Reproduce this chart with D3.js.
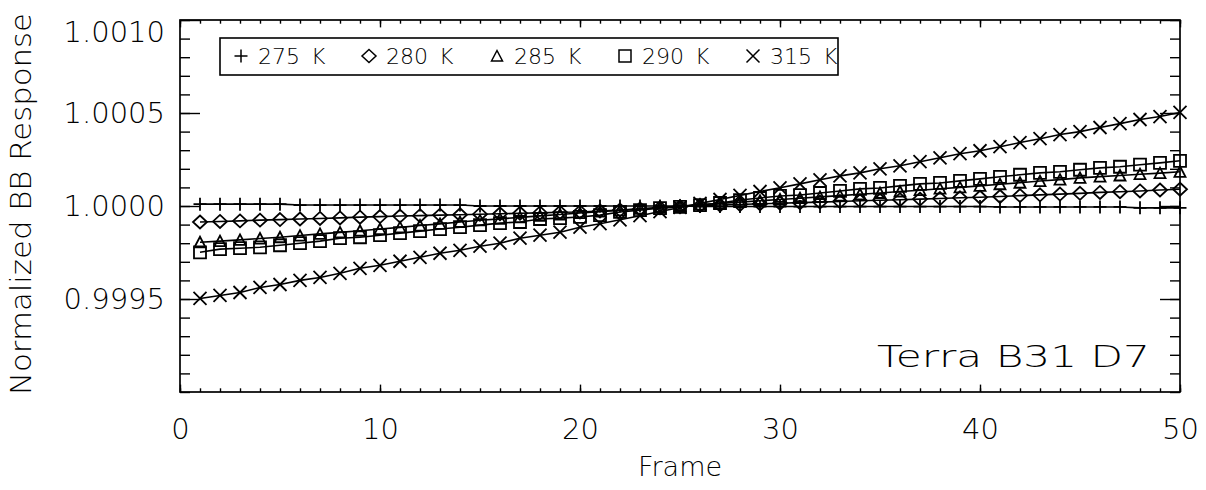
<!DOCTYPE html>
<html>
<head>
<meta charset="utf-8">
<script src="https://cdn.jsdelivr.net/npm/d3@7"></script>
<style>
  body { margin: 0; background: #fff; }
  text { font-family: "DejaVu Sans", sans-serif; font-weight: 200; fill: #000; }
</style>
</head>
<body>
<svg id="chart"></svg>
<script>
// frames 1..50
const frames = d3.range(1, 51);

const seriesNames = ["275 K", "280 K", "285 K", "290 K", "315 K"];
const seriesShapes = ["plus", "diamond", "triangle", "square", "cross"];

const s275 = [1.000010, 1.000010, 1.000010, 1.000010, 1.000010, 1.000005, 1.000005, 1.000005, 1.000005, 1.000005,
              1.000005, 1.000005, 1.000005, 1.000005, 1.000000, 1.000000, 1.000000, 1.000000, 1.000000, 1.000000,
              1.000000, 1.000000, 1.000000, 1.000000, 1.000000, 0.999997, 0.999997, 0.999997, 0.999997, 0.999997,
              0.999997, 0.999997, 0.999997, 0.999997, 0.999997, 0.999997, 0.999997, 0.999997, 0.999997, 0.999997,
              0.999995, 0.999995, 0.999995, 0.999995, 0.999995, 0.999995, 0.999995, 0.999990, 0.999990, 0.999990];

const s280 = [0.999914, 0.999917, 0.999920, 0.999924, 0.999927, 0.999930, 0.999933, 0.999936, 0.999940, 0.999943,
              0.999946, 0.999948, 0.999951, 0.999953, 0.999956, 0.999958, 0.999961, 0.999963, 0.999966, 0.999968,
              0.999973, 0.999978, 0.999984, 0.999990, 0.999996, 1.000002, 1.000005, 1.000008, 1.000012, 1.000015,
              1.000018, 1.000021, 1.000024, 1.000028, 1.000031, 1.000034, 1.000037, 1.000040, 1.000044, 1.000047,
              1.000051, 1.000056, 1.000060, 1.000064, 1.000068, 1.000073, 1.000077, 1.000081, 1.000086, 1.000090];

const s285 = [0.999805, 0.999811, 0.999818, 0.999825, 0.999832, 0.999841, 0.999850, 0.999858, 0.999867, 0.999876,
              0.999885, 0.999895, 0.999904, 0.999914, 0.999923, 0.999931, 0.999939, 0.999947, 0.999954, 0.999962,
              0.999970, 0.999977, 0.999985, 0.999992, 1.000000, 1.000007, 1.000014, 1.000021, 1.000028, 1.000035,
              1.000042, 1.000049, 1.000056, 1.000063, 1.000070, 1.000078, 1.000085, 1.000093, 1.000100, 1.000108,
              1.000117, 1.000125, 1.000134, 1.000142, 1.000151, 1.000158, 1.000164, 1.000171, 1.000177, 1.000184];

const s290 = [0.999751, 0.999768, 0.999773, 0.999778, 0.999789, 0.999800, 0.999811, 0.999827, 0.999832, 0.999843,
              0.999854, 0.999865, 0.999876, 0.999886, 0.999897, 0.999908, 0.999914, 0.999930, 0.999935, 0.999941,
              0.999951, 0.999968, 0.999978, 0.999989, 0.999995, 1.000005, 1.000016, 1.000032, 1.000043, 1.000054,
              1.000059, 1.000070, 1.000081, 1.000092, 1.000097, 1.000108, 1.000119, 1.000124, 1.000135, 1.000146,
              1.000157, 1.000168, 1.000178, 1.000184, 1.000195, 1.000205, 1.000211, 1.000222, 1.000232, 1.000243];

const s315 = [0.999503, 0.999519, 0.999535, 0.999562, 0.999578, 0.999600, 0.999616, 0.999638, 0.999665, 0.999681,
              0.999703, 0.999724, 0.999746, 0.999762, 0.999784, 0.999800, 0.999827, 0.999843, 0.999859, 0.999886,
              0.999905, 0.999926, 0.999948, 0.999970, 0.999992, 1.000014, 1.000035, 1.000057, 1.000078, 1.000098,
              1.000119, 1.000141, 1.000162, 1.000178, 1.000200, 1.000216, 1.000238, 1.000259, 1.000281, 1.000297,
              1.000319, 1.000341, 1.000362, 1.000384, 1.000400, 1.000422, 1.000443, 1.000465, 1.000481, 1.000503];

const seriesValues = [s275, s280, s285, s290, s315];

const xTickLabels = [0, 10, 20, 30, 40, 50];
const yTickLabels = [0.9995, 1.0000, 1.0005, 1.0010];

const width = 1206, height = 490;
const plot = { left: 180, right: 1180, top: 20, bottom: 392 };

const svg = d3.select("#chart")
    .attr("width", width)
    .attr("height", height);

svg.append("rect")
    .attr("width", "100%")
    .attr("height", "100%")
    .style("fill", "#fff");

const x = d3.scaleLinear().domain([0, 50]).range([plot.left, plot.right]);
const y = d3.scaleLinear().domain([0.9990, 1.0010]).range([plot.bottom, plot.top]);

// symbol outlines, IDL style
function symbolPath(shape) {
    switch (shape) {
        case "plus": return "M-6.5,0H6.5M0,-6.5V6.5";
        case "cross": return "M-6.5,-6.5L6.5,6.5M-6.5,6.5L6.5,-6.5";
        case "diamond": return "M0,-6.5L7,0L0,6.5L-7,0Z";
        case "triangle": return "M-5.5,5L0,-5.5L5.5,5Z";
        case "square": return "M-6,-6H6V6H-6Z";
    }
}

// ---- axes: ticks inside on all four sides
function styleAxis(g) {
    g.select(".domain").remove();
    g.selectAll("line").attr("stroke", "#000").attr("stroke-width", 1.4);
    g.selectAll("text").style("font-size", "29px").style("font-family", "DejaVu Sans").style("font-weight", 200);
}

// minor ticks
svg.append("g").attr("transform", `translate(0,${plot.bottom})`)
    .call(d3.axisBottom(x).ticks(50).tickSize(-3.7).tickFormat(""))
    .call(styleAxis);
svg.append("g").attr("transform", `translate(0,${plot.top})`)
    .call(d3.axisTop(x).ticks(50).tickSize(-3.7).tickFormat(""))
    .call(styleAxis);
svg.append("g").attr("transform", `translate(${plot.left},0)`)
    .call(d3.axisLeft(y).ticks(20).tickSize(-10).tickFormat(""))
    .call(styleAxis);
svg.append("g").attr("transform", `translate(${plot.right},0)`)
    .call(d3.axisRight(y).ticks(20).tickSize(-10).tickFormat(""))
    .call(styleAxis);

// major ticks + labels
svg.append("g").attr("transform", `translate(0,${plot.bottom})`)
    .call(d3.axisBottom(x).tickValues(xTickLabels).tickSize(-7.4).tickPadding(26).tickFormat(d3.format("d")))
    .call(styleAxis);
svg.append("g").attr("transform", `translate(0,${plot.top})`)
    .call(d3.axisTop(x).tickValues(xTickLabels).tickSize(-7.4).tickFormat(""))
    .call(styleAxis);
const yAxisG = svg.append("g").attr("transform", `translate(${plot.left},0)`)
    .call(d3.axisLeft(y).tickValues(yTickLabels).tickSize(-20).tickPadding(15).tickFormat(d3.format(".4f")))
    .call(styleAxis);
svg.append("g").attr("transform", `translate(${plot.right},0)`)
    .call(d3.axisRight(y).tickValues(yTickLabels).tickSize(-20).tickFormat(""))
    .call(styleAxis);

// top label sits a bit lower in the original
yAxisG.selectAll(".tick text").filter(d => d === 1.0010).attr("dy", "0.75em");

// frame
svg.append("rect")
    .attr("x", plot.left).attr("y", plot.top)
    .attr("width", plot.right - plot.left).attr("height", plot.bottom - plot.top)
    .attr("fill", "none").attr("stroke", "#000").attr("stroke-width", 1.7);

// ---- data
const line = d3.line().x((d, i) => x(frames[i])).y(d => y(d));

const series = svg.append("g").selectAll("g")
    .data(seriesValues)
    .join("g");

series.append("path")
    .attr("d", d => line(d))
    .attr("fill", "none")
    .attr("stroke", "#000")
    .attr("stroke-width", 1.6);

series.each(function (vals, si) {
    d3.select(this).selectAll("path.sym")
        .data(vals)
        .join("path")
        .attr("class", "sym")
        .attr("transform", (d, i) => `translate(${x(frames[i])},${y(d)})`)
        .attr("d", symbolPath(seriesShapes[si]))
        .attr("fill", "none")
        .attr("stroke", "#000")
        .attr("stroke-width", 1.8);
});

// ---- legend
const legend = svg.append("g");
legend.append("rect")
    .attr("x", 220).attr("y", 38)
    .attr("width", 618).attr("height", 37)
    .attr("fill", "#fff").attr("stroke", "#000").attr("stroke-width", 1.6);

const items = legend.selectAll("g.item")
    .data(seriesNames)
    .join("g")
    .attr("class", "item")
    .attr("transform", (d, i) => `translate(${241 + i * 128},56)`);

items.append("path")
    .attr("d", (d, i) => symbolPath(seriesShapes[i]))
    .attr("fill", "none")
    .attr("stroke", "#000")
    .attr("stroke-width", 1.5);

items.append("text")
    .attr("x", 17)
    .attr("y", 0)
    .attr("dy", "0.36em")
    .style("font-size", "22px")
    .text(d => d.replace(" ", "\u2002"));

// ---- titles
svg.append("text")
    .attr("x", (plot.left + plot.right) / 2)
    .attr("y", 466)
    .attr("text-anchor", "middle")
    .attr("dy", "0.36em")
    .style("font-size", "27px")
    .text("Frame");

svg.append("text")
    .attr("transform", `translate(21,${(plot.top + plot.bottom) / 2 - 2}) rotate(-90)`)
    .attr("text-anchor", "middle")
    .attr("dy", "0.36em")
    .attr("textLength", 382)
    .attr("lengthAdjust", "spacingAndGlyphs")
    .style("font-size", "28px")
    .text("Normalized BB Response");

svg.append("text")
    .attr("x", 1150)
    .attr("y", 356)
    .attr("text-anchor", "end")
    .attr("dy", "0.36em")
    .attr("textLength", 273)
    .attr("lengthAdjust", "spacingAndGlyphs")
    .style("font-size", "30px")
    .text("Terra B31 D7");
</script>
</body>
</html>
